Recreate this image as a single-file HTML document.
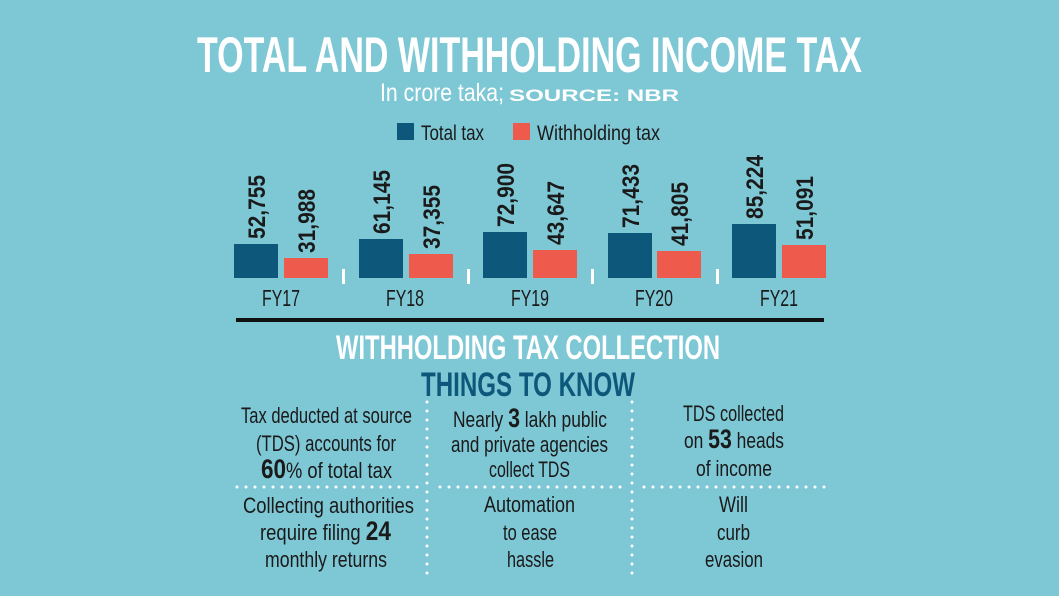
<!DOCTYPE html>
<html><head><meta charset="utf-8"><style>
html,body{margin:0;padding:0;background:#7ec7d5;}
svg{display:block}
text{font-family:"Liberation Sans Narrow","Liberation Sans",sans-serif;}
</style></head><body>
<svg width="1059" height="596" viewBox="0 0 1059 596" xmlns="http://www.w3.org/2000/svg">
<rect width="1059" height="596" fill="#7ec7d5"/>
<text x="197" y="72" font-size="50" font-weight="bold" fill="#fff" textLength="665" lengthAdjust="spacingAndGlyphs">TOTAL AND WITHHOLDING INCOME TAX</text>
<text x="380" y="101" font-size="25" fill="#fff" textLength="124" lengthAdjust="spacingAndGlyphs">In crore taka;</text>
<text x="509" y="101" font-size="17" font-weight="bold" fill="#fff" font-family="Liberation Sans" textLength="170" lengthAdjust="spacingAndGlyphs">SOURCE: NBR</text>
<rect x="397" y="123" width="17" height="17" fill="#0d587a"/>
<text x="421" y="140" font-size="21" fill="#1a1a1a" textLength="63" lengthAdjust="spacingAndGlyphs">Total tax</text>
<rect x="513" y="123" width="17" height="17" fill="#ee5a4c"/>
<text x="537" y="140" font-size="21" fill="#1a1a1a" textLength="123" lengthAdjust="spacingAndGlyphs">Withholding tax</text>
<g fill="#0d587a">
<rect x="234" y="244" width="44" height="34"/>
<rect x="359" y="239" width="44" height="39"/>
<rect x="483" y="232" width="44" height="46"/>
<rect x="608" y="233" width="44" height="45"/>
<rect x="732" y="224" width="44" height="54"/>
</g>
<g fill="#ee5a4c">
<rect x="284" y="258" width="44" height="20"/>
<rect x="409" y="254" width="44" height="24"/>
<rect x="533" y="250" width="44" height="28"/>
<rect x="657" y="251" width="44" height="27"/>
<rect x="782" y="245" width="44" height="33"/>
</g>
<g font-size="24" font-weight="bold" fill="#1a1a1a">
<text transform="translate(265,239) rotate(-90)" textLength="64" lengthAdjust="spacingAndGlyphs">52,755</text>
<text transform="translate(315,253) rotate(-90)" textLength="64" lengthAdjust="spacingAndGlyphs">31,988</text>
<text transform="translate(390,234) rotate(-90)" textLength="64" lengthAdjust="spacingAndGlyphs">61,145</text>
<text transform="translate(440,249) rotate(-90)" textLength="64" lengthAdjust="spacingAndGlyphs">37,355</text>
<text transform="translate(514,227) rotate(-90)" textLength="64" lengthAdjust="spacingAndGlyphs">72,900</text>
<text transform="translate(564,245) rotate(-90)" textLength="64" lengthAdjust="spacingAndGlyphs">43,647</text>
<text transform="translate(639,228) rotate(-90)" textLength="64" lengthAdjust="spacingAndGlyphs">71,433</text>
<text transform="translate(688,246) rotate(-90)" textLength="64" lengthAdjust="spacingAndGlyphs">41,805</text>
<text transform="translate(763,219) rotate(-90)" textLength="64" lengthAdjust="spacingAndGlyphs">85,224</text>
<text transform="translate(813,240) rotate(-90)" textLength="64" lengthAdjust="spacingAndGlyphs">51,091</text>
</g>
<g fill="#fff">
<rect x="342" y="269" width="3" height="15"/>
<rect x="467" y="269" width="3" height="15"/>
<rect x="591" y="269" width="3" height="15"/>
<rect x="716" y="269" width="3" height="15"/>
</g>
<g font-size="23" fill="#1a1a1a" text-anchor="middle">
<text x="281" y="306" textLength="38" lengthAdjust="spacingAndGlyphs">FY17</text>
<text x="405" y="306" textLength="38" lengthAdjust="spacingAndGlyphs">FY18</text>
<text x="530" y="306" textLength="38" lengthAdjust="spacingAndGlyphs">FY19</text>
<text x="654" y="306" textLength="38" lengthAdjust="spacingAndGlyphs">FY20</text>
<text x="779" y="306" textLength="38" lengthAdjust="spacingAndGlyphs">FY21</text>
</g>
<rect x="236" y="318" width="588" height="4" fill="#111"/>
<text x="336" y="359" font-size="34" font-weight="bold" fill="#fff" textLength="384" lengthAdjust="spacingAndGlyphs">WITHHOLDING TAX COLLECTION</text>
<text x="421" y="396" font-size="34" font-weight="bold" fill="#0d587a" textLength="214" lengthAdjust="spacingAndGlyphs">THINGS TO KNOW</text>
<g stroke="#fff" stroke-width="3" stroke-linecap="round" stroke-dasharray="0 9">
<line x1="427" y1="402" x2="427" y2="578"/>
<line x1="632" y1="402" x2="632" y2="578"/>
<line x1="237" y1="487" x2="418" y2="487"/>
<line x1="440" y1="487" x2="622" y2="487"/>
<line x1="644" y1="487" x2="826" y2="487"/>
</g>
<g font-size="22" fill="#1a1a1a">
<text x="241" y="423" textLength="171" lengthAdjust="spacingAndGlyphs">Tax deducted at source</text>
<text x="256" y="451" textLength="140" lengthAdjust="spacingAndGlyphs">(TDS) accounts for</text>
<text x="261" y="478" textLength="131" lengthAdjust="spacingAndGlyphs"><tspan font-weight="bold" font-size="27">60</tspan>% of total tax</text>
<text x="453" y="427" textLength="154" lengthAdjust="spacingAndGlyphs">Nearly <tspan font-weight="bold" font-size="27">3</tspan> lakh public</text>
<text x="451" y="452" textLength="157" lengthAdjust="spacingAndGlyphs">and private agencies</text>
<text x="489" y="477" textLength="81" lengthAdjust="spacingAndGlyphs">collect TDS</text>
<text x="683" y="421" textLength="101" lengthAdjust="spacingAndGlyphs">TDS collected</text>
<text x="684" y="448" textLength="100" lengthAdjust="spacingAndGlyphs">on <tspan font-weight="bold" font-size="27">53</tspan> heads</text>
<text x="696" y="476" textLength="76" lengthAdjust="spacingAndGlyphs">of income</text>
<text x="243" y="513" textLength="171" lengthAdjust="spacingAndGlyphs">Collecting authorities</text>
<text x="260" y="540" textLength="131" lengthAdjust="spacingAndGlyphs">require filing <tspan font-weight="bold" font-size="27">24</tspan></text>
<text x="265" y="567" textLength="122" lengthAdjust="spacingAndGlyphs">monthly returns</text>
<text x="484" y="512" textLength="91" lengthAdjust="spacingAndGlyphs">Automation</text>
<text x="503" y="540" textLength="54" lengthAdjust="spacingAndGlyphs">to ease</text>
<text x="507" y="567" textLength="47" lengthAdjust="spacingAndGlyphs">hassle</text>
<text x="719" y="512" textLength="29" lengthAdjust="spacingAndGlyphs">Will</text>
<text x="717" y="540" textLength="33" lengthAdjust="spacingAndGlyphs">curb</text>
<text x="705" y="567" textLength="58" lengthAdjust="spacingAndGlyphs">evasion</text>
</g>
</svg>
</body></html>
